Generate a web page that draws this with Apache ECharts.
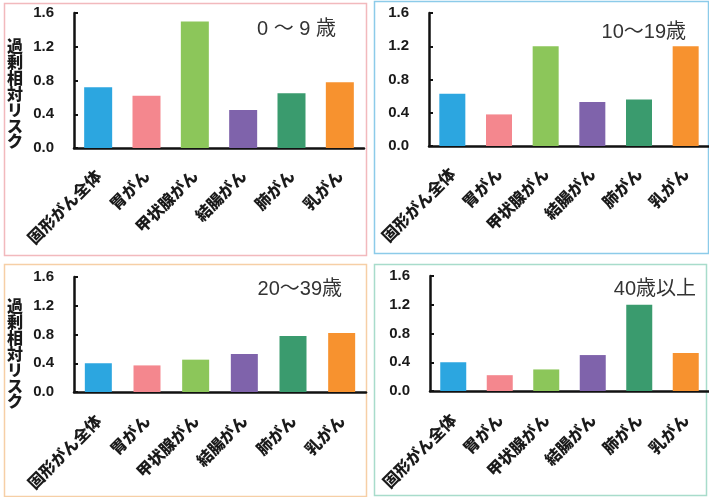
<!DOCTYPE html>
<html>
<head>
<meta charset="utf-8">
<script src="https://cdn.jsdelivr.net/npm/echarts@6/dist/echarts.min.js"></script>
<style>
html,body{margin:0;padding:0;background:#fff;}
#c{width:709px;height:497px;}
</style>
</head>
<body>
<div id="c"></div>
<script>
// ---- data ----
var categories = ['固形がん全体', '胃がん', '甲状腺がん', '結腸がん', '肺がん', '乳がん'];
var age0to9 = [0.72, 0.62, 1.50, 0.45, 0.65, 0.78];
var age10to19 = [0.63, 0.38, 1.20, 0.53, 0.56, 1.20];
var age20to39 = [0.40, 0.37, 0.45, 0.53, 0.78, 0.82];
var age40plus = [0.40, 0.22, 0.30, 0.50, 1.20, 0.53];
var panelTitles = ['0 ～ 9 歳', '10～19歳', '20～39歳', '40歳以上'];
var yAxisName = '過剰相対リスク';
var yMin = 0, yMax = 1.6, yStep = 0.4;

// ---- styling ----
var barColors = ['#2ca6e0', '#f4878e', '#8cc65a', '#7f63ab', '#3a9b6e', '#f7922f'];
var FONT = '"Liberation Sans", "Noto Sans CJK JP", sans-serif';
var CJK = '"Noto Sans CJK JP", sans-serif';

var panels = [
  {data: age0to9,   grid: {left: 74,  top: 13,  width: 290, height: 135}, barWidth: 28, labelMargin: 25,
   border: {x: 4, y: 3, w: 362, h: 252, c: '#f2b9bd'}, title: {right: 709 - 341, top: 14}, yname: {x: 15, y: 38}},
  {data: age10to19, grid: {left: 429, top: 13,  width: 283, height: 133}, barWidth: 26, labelMargin: 25,
   border: {x: 374, y: 1, w: 334, h: 252, c: '#8ccbe9'}, title: {right: 709 - 691, top: 17}, yname: null},
  {data: age20to39, grid: {left: 74,  top: 277, width: 292, height: 115}, barWidth: 27, labelMargin: 26,
   border: {x: 4, y: 264, w: 362, h: 232, c: '#f6cfa6'}, title: {right: 709 - 347, top: 274}, yname: {x: 15, y: 298}},
  {data: age40plus, grid: {left: 430, top: 276, width: 282, height: 115}, barWidth: 26, labelMargin: 26,
   border: {x: 374, y: 264, w: 332, h: 231, c: '#a8dccb'}, title: {right: 709 - 701, top: 274}, yname: null}
];

var option = {
  animation: false,
  backgroundColor: '#fff',
  grid: [], xAxis: [], yAxis: [], series: [], title: [], graphic: []
};

panels.forEach(function (p, i) {
  option.graphic.push({
    type: 'rect', z: -1,
    shape: {x: p.border.x + 0.5, y: p.border.y + 0.5, width: p.border.w, height: p.border.h},
    style: {fill: 'none', stroke: p.border.c, lineWidth: 1.5}
  });
  if (p.yname) {
    option.graphic.push({
      type: 'text', x: p.yname.x, y: p.yname.y,
      style: {
        text: yAxisName.split('').join('\n'),
        font: '900 16px ' + CJK, lineHeight: 15.9,
        fill: '#1a1a1a', align: 'center', verticalAlign: 'top'
      }
    });
  }
  option.title.push({
    text: panelTitles[i],
    right: p.title.right, top: p.title.top,
    textStyle: {fontFamily: FONT, fontSize: 20, fontWeight: 'normal', color: '#333'}
  });
  option.grid.push(Object.assign({containLabel: false}, p.grid));
  option.xAxis.push({
    type: 'category', gridIndex: i, data: categories,
    axisLine: {lineStyle: {color: '#111', width: 2.5}},
    axisTick: {show: false},
    axisLabel: {interval: 0, rotate: 45, margin: p.labelMargin, fontFamily: CJK, fontWeight: 900, fontSize: 16, color: '#1a1a1a'}
  });
  option.yAxis.push({
    type: 'value', gridIndex: i, min: yMin, max: yMax, interval: yStep,
    splitLine: {show: false},
    axisLine: {show: true, lineStyle: {color: '#111', width: 2.5}},
    axisTick: {show: true, inside: true, length: 4, lineStyle: {color: '#111', width: 2}},
    axisLabel: {margin: 20, fontFamily: FONT, fontWeight: 'bold', fontSize: 15, color: '#1a1a1a',
      formatter: function (v) { return v.toFixed(1); }}
  });
  option.series.push({
    type: 'bar', xAxisIndex: i, yAxisIndex: i, data: p.data, barWidth: p.barWidth,
    itemStyle: {color: function (d) { return barColors[d.dataIndex]; }}
  });
});

var chart = echarts.init(document.getElementById('c'));
chart.setOption(option);
</script>
</body>
</html>
